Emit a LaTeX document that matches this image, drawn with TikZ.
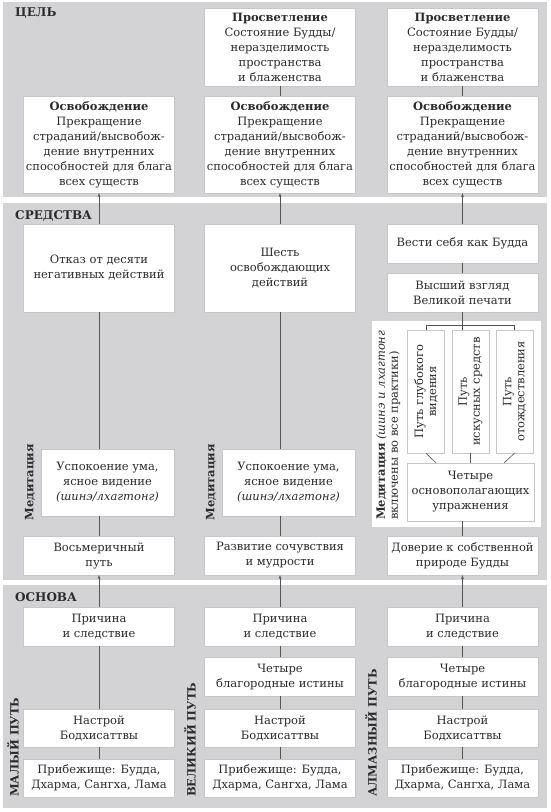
\documentclass[tikz,border=0pt]{standalone}
\usepackage{fontspec}
\setmainfont{DejaVu Serif}
\usetikzlibrary{arrows.meta}
\definecolor{band}{HTML}{D3D3D5}
\definecolor{wire}{HTML}{555555}
\definecolor{ink}{HTML}{2B2B2B}

\begin{document}
\begin{tikzpicture}[x={(1pt,0pt)},y={(0pt,-1pt)},
 >={Stealth[length=4pt,width=2.8pt]},
 cell/.style={fill=white,draw=black!22,line width=0.4pt,text=ink,align=center,
  minimum width=151,inner sep=2pt,font=\fontsize{11.5}{15}\selectfont},
 tall/.style={cell,rotate=90,minimum width=123,minimum height=37,
  font=\fontsize{11.5}{13}\selectfont},
 head/.style={anchor=west,inner sep=0pt,text=ink,font=\fontsize{12}{13}\bfseries\selectfont},
 side/.style={rotate=90,anchor=west,inner sep=0pt,text=ink,font=\fontsize{11.5}{13}\bfseries\selectfont},
 link/.style={draw=wire,line width=0.6pt}]
 \useasboundingbox (0,0) rectangle (550,812);
 \fill[band] (3,2) rectangle (547,197);
 \fill[band] (3,203) rectangle (547,580);
 \fill[band] (3,585) rectangle (547,808);
 \node[head] (G) at (15,13) {ЦЕЛЬ};
 \node[head] (S) at (15,215.5) {СРЕДСТВА};
 \node[head] (B) at (15,597) {ОСНОВА};

 \node[cell,minimum height=78] (P2) at (280,47)
 {\textbf{Просветление}\\Состояние Будды/\\неразделимость\\пространства\\и блаженства};
 \node[cell,minimum height=78] (P3) at (462.5,47)
 {\textbf{Просветление}\\Состояние Будды/\\неразделимость\\пространства\\и блаженства};
 \node[cell,minimum height=97] (O1) at (99,144.5)
 {\textbf{Освобождение}\\Прекращение\\страданий/высвобож-\\дение внутренних\\способностей для блага\\всех существ};
 \node[cell,minimum height=97] (O2) at (280,144.5)
 {\textbf{Освобождение}\\Прекращение\\страданий/высвобож-\\дение внутренних\\способностей для блага\\всех существ};
 \node[cell,minimum height=97] (O3) at (462.5,144.5)
 {\textbf{Освобождение}\\Прекращение\\страданий/высвобож-\\дение внутренних\\способностей для блага\\всех существ};

 \node[cell,minimum height=88] (A1) at (99,268) {Отказ от десяти\\негативных действий};
 \node[cell,minimum height=88] (A2) at (280,268) {Шесть\\освобождающих\\действий};
 \node[cell,minimum height=39] (B3) at (462.5,243.5) {Вести себя как Будда};
 \node[cell,minimum height=39] (V3) at (462.5,292.5) {Высший взгляд\\Великой печати};
 \node[cell,minimum width=133,minimum height=67] (M1) at (107.5,482.5)
 {Успокоение ума,\\ясное видение\\\textit{(шинэ/лхагтонг)}};
 \node[cell,minimum width=133,minimum height=67] (M2) at (288.5,482.5)
 {Успокоение ума,\\ясное видение\\\textit{(шинэ/лхагтонг)}};
 \node[side,anchor=center] (K1) at (30,482.5) {Медитация};
 \node[side,anchor=center] (K2) at (211,482.5) {Медитация};
 \node[fill=white,minimum width=169,minimum height=206,inner sep=0pt] (MB) at (456.5,424) {};
 \node[tall] (S1) at (426,391.5) {Путь глубокого\\видения};
 \node[tall] (S2) at (470.5,391.5) {Путь\\искусных средств};
 \node[tall] (S3) at (514.5,391.5) {Путь\\отождествления};
 \node[cell,minimum width=127,minimum height=58] (F3) at (470.5,492)
 {Четыре\\основополагающих\\упражнения};
 \node[rotate=90,anchor=north west,inner sep=0pt,align=left,text=ink,
 font=\fontsize{11.5}{13}\selectfont] (K3) at (376,520)
 {\textbf{Медитация} \textit{(шинэ и лхагтонг}\\включены во все практики)};
 \node[cell,minimum height=39] (E1) at (99,555.5) {Восьмеричный\\путь};
 \node[cell,minimum height=39] (E2) at (280,555.5) {Развитие сочувствия\\и мудрости};
 \node[cell,minimum height=39] (D3) at (462.5,555.5) {Доверие к собственной\\природе Будды};

 \node[cell,minimum height=39] (C1) at (99,626.5) {Причина\\и следствие};
 \node[cell,minimum height=39] (C2) at (280,626.5) {Причина\\и следствие};
 \node[cell,minimum height=39] (C3) at (462.5,626.5) {Причина\\и следствие};
 \node[cell,minimum height=39] (N2) at (280,676.5) {Четыре\\благородные истины};
 \node[cell,minimum height=39] (N3) at (462.5,676.5) {Четыре\\благородные истины};
 \node[cell,minimum height=38] (H1) at (99,728) {Настрой\\Бодхисаттвы};
 \node[cell,minimum height=38] (H2) at (280,728) {Настрой\\Бодхисаттвы};
 \node[cell,minimum height=38] (H3) at (462.5,728) {Настрой\\Бодхисаттвы};
 \node[cell,minimum height=38] (R1) at (99,778) {Прибежище: Будда,\\Дхарма, Сангха, Лама};
 \node[cell,minimum height=38] (R2) at (280,778) {Прибежище: Будда,\\Дхарма, Сангха, Лама};
 \node[cell,minimum height=38] (R3) at (462.5,778) {Прибежище: Будда,\\Дхарма, Сангха, Лама};
 \node[side] (W1) at (13,797) {МАЛЫЙ ПУТЬ};
 \node[side] (W2) at (190,797) {ВЕЛИКИЙ ПУТЬ};
 \node[side] (W3) at (371,797) {АЛМАЗНЫЙ ПУТЬ};

 \draw[link,->] (A1) -- (O1);
 \draw[link,->] (A2) -- (O2);
 \draw[link,->] (B3) -- (O3);
 \draw[link] (O2) -- (P2);
 \draw[link] (O3) -- (P3);
 \draw[link] (V3) -- (B3);
 \draw[link] (A1) -- (A1 |- M1.north);
 \draw[link] (A2) -- (A2 |- M2.north);
 \draw[link] (E1) -- (E1 |- M1.south);
 \draw[link] (E2) -- (E2 |- M2.south);
 \draw[link] (V3) -- (V3 |- S2.east);
 \draw[link] (S1.east) -- ++(0,-5) -| (S3.east);
 \draw[link] (S1.west) -- ([xshift=29pt]F3.north west);
 \draw[link] (S2.west) -- (S2.west |- F3.north);
 \draw[link] (S3.west) -- ([xshift=-30pt]F3.north east);
 \draw[link] (D3) -- (D3 |- F3.south);
 \draw[link,->] (C1) -- (E1);
 \draw[link,->] (C2) -- (E2);
 \draw[link,->] (C3) -- (D3);
 \draw[link] (C1) -- (H1);
 \draw[link] (H1) -- (R1);
 \draw[link] (C2) -- (N2);
 \draw[link] (N2) -- (H2);
 \draw[link] (H2) -- (R2);
 \draw[link] (C3) -- (N3);
 \draw[link] (N3) -- (H3);
 \draw[link] (H3) -- (R3);
\end{tikzpicture}
\end{document}
